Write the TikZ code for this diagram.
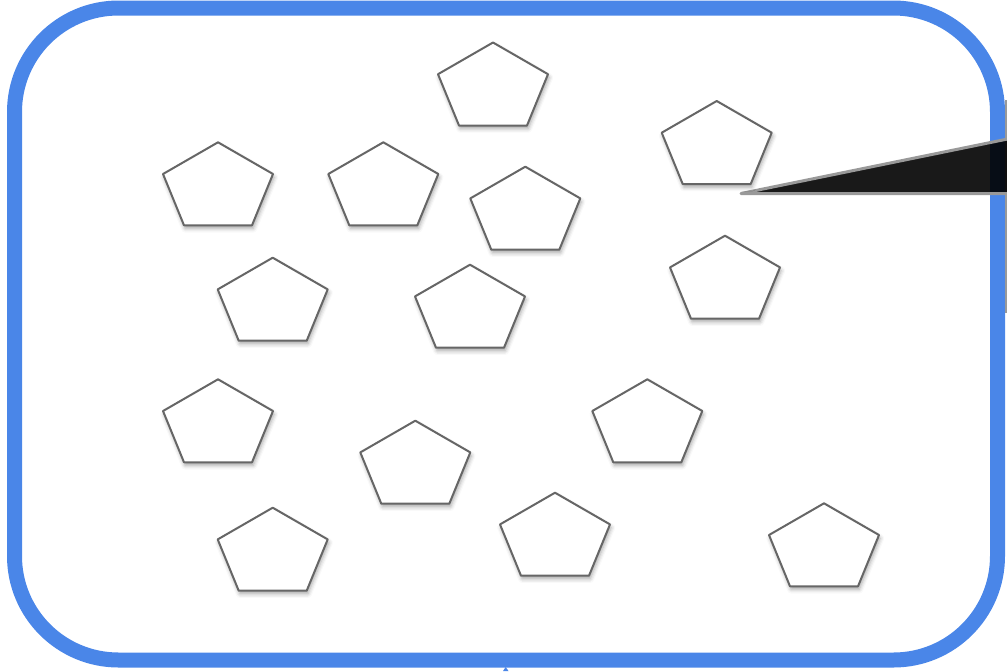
\documentclass[tikz,border=0pt]{standalone}
\usepackage{tikz}
\usetikzlibrary{shadows.blur}
\definecolor{FrameBlue}{RGB}{74,134,232}
\definecolor{EdgeGray}{RGB}{102,102,102}
\definecolor{PointerGray}{RGB}{153,153,153}

\begin{document}
\begin{tikzpicture}[x=.5pt,y=-.5pt,
pent/.style={draw=EdgeGray,line width=1pt,fill=white,line join=round,
  blur shadow={shadow xshift=.6pt,shadow yshift=-1.6pt,shadow blur radius=2pt,shadow opacity=35}}]
\useasboundingbox (0,0) rectangle (1007,671);
\draw[FrameBlue,line width=7.5pt,rounded corners=52pt] (14.5,8) rectangle (997.5,660);
\fill[FrameBlue] (503,671)--(508.5,671)--(505.7,667)--cycle;
\draw[PointerGray,line width=1.2pt] (1006.5,100)--(1006.5,313);
\filldraw[fill=black,fill opacity=.9,draw=PointerGray,line width=1.5pt,line cap=round,line join=round]
 (741,193.5)--(1010,138.5)--(1010,193.5)--cycle;
\foreach \x/\y in {493/42.5,716.7/101,218/142.3,383.3/142.3,525.3/166.7,272.7/257.7,470/264.7,725/235.7,
218/379.3,415.3/420.7,647.3/379.3,272.7/507.7,555/492.7,824/503.3}{
\draw[pent,shift={(\x,\y)}] (0,0)--(55,31.7)--(34,83)--(-34,83)--(-55,31.7)--cycle;}
\end{tikzpicture}
\end{document}
